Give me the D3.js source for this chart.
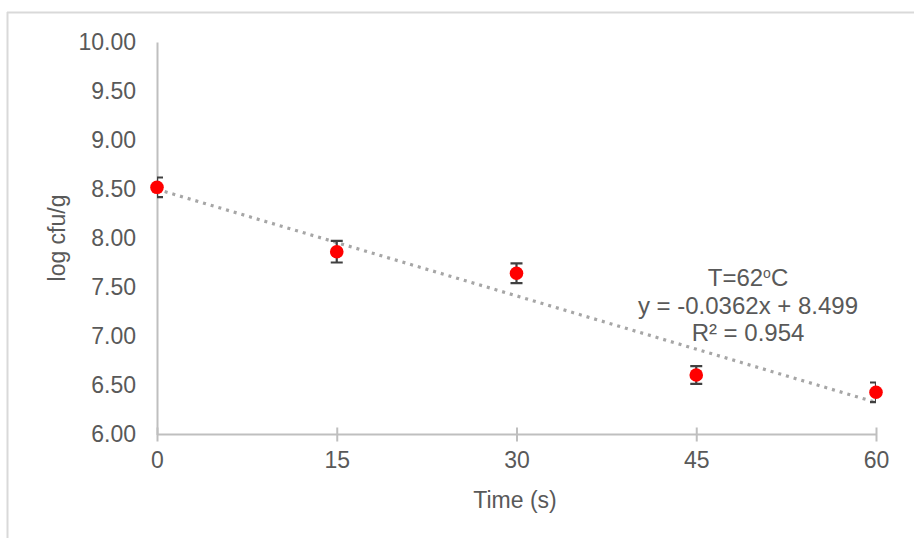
<!DOCTYPE html>
<html>
<head>
<meta charset="utf-8">
<script src="https://cdn.jsdelivr.net/npm/d3@7"></script>
<style>
  html, body { margin: 0; padding: 0; background: #fff; }
  svg { display: block; }
  text { font-family: "Liberation Sans", Arial, sans-serif; fill: #595959; }
</style>
</head>
<body>
<svg id="chart" width="914" height="538"></svg>
<script>
const times = [0, 15, 30, 45, 60];
const logCfu = [8.519, 7.863, 7.643, 6.606, 6.430];
const errors = [0.10, 0.11, 0.10, 0.09, 0.10];
const xTicks = [0, 15, 30, 45, 60];
const yTicks = [6.0, 6.5, 7.0, 7.5, 8.0, 8.5, 9.0, 9.5, 10.0];
const trendSlope = -0.0362;
const trendIntercept = 8.499;
const annotation = ["T=62", "y = -0.0362x + 8.499", "R² = 0.954"];

const svg = d3.select("#chart");
const W = 914, H = 538;
const plot = { left: 157, right: 876, top: 42, bottom: 434.5 };

const x = d3.scaleLinear().domain([0, 60]).range([plot.left, plot.right]);
const y = d3.scaleLinear().domain([6, 10]).range([plot.bottom, plot.top]);

// outer frame (top and left edges visible)
svg.append("line").attr("x1", 7).attr("x2", W).attr("y1", 12.5).attr("y2", 12.5)
  .attr("stroke", "#d9d9d9").attr("stroke-width", 2);
svg.append("line").attr("x1", 7.5).attr("x2", 7.5).attr("y1", 12).attr("y2", H)
  .attr("stroke", "#d9d9d9").attr("stroke-width", 2);

svg.append("clipPath").attr("id", "plotClip").append("rect")
  .attr("x", plot.left).attr("y", plot.top - 20)
  .attr("width", plot.right - plot.left).attr("height", plot.bottom - plot.top + 20);

// Y axis
const yAxis = d3.axisLeft(y).tickValues(yTicks).tickSize(0).tickPadding(21)
  .tickFormat(d3.format(".2f"));
const gy = svg.append("g").attr("transform", `translate(${plot.left},0)`).call(yAxis);
gy.select(".domain").attr("stroke", "#bfbfbf").attr("stroke-width", 2);
gy.selectAll("text").attr("font-size", 23).attr("fill", "#595959")
  .style("font-family", "'Liberation Sans', Arial, sans-serif");

// X axis
const xAxis = d3.axisBottom(x).tickValues(xTicks).tickSize(7).tickPadding(10)
  .tickFormat(d3.format("d"));
const gx = svg.append("g").attr("transform", `translate(0,${plot.bottom})`).call(xAxis);
gx.select(".domain").attr("stroke", "#bfbfbf").attr("stroke-width", 2)
  .attr("d", `M${plot.left},0H${plot.right}`);
gx.selectAll(".tick line").attr("stroke", "#bfbfbf").attr("stroke-width", 2)
  .attr("y1", -7).attr("y2", 7);
gx.selectAll("text").attr("font-size", 23).attr("fill", "#595959")
  .style("font-family", "'Liberation Sans', Arial, sans-serif");

// axis titles
svg.append("text").attr("transform", `translate(65,238) rotate(-90)`)
  .attr("text-anchor", "middle").attr("font-size", 23).text("log cfu/g");
svg.append("text").attr("x", 515).attr("y", 508)
  .attr("text-anchor", "middle").attr("font-size", 23).text("Time (s)");

// trendline
const tx = d3.extent(times);
svg.append("line")
  .attr("x1", x(tx[0])).attr("y1", y(trendIntercept + trendSlope * tx[0]))
  .attr("x2", x(tx[1])).attr("y2", y(trendIntercept + trendSlope * tx[1]))
  .attr("stroke", "#a6a6a6").attr("stroke-width", 3.2)
  .attr("stroke-dasharray", "3 5");

// error bars
const data = times.map((t, i) => ({ t, v: logCfu[i], e: errors[i] }));
const eb = svg.append("g").attr("clip-path", "url(#plotClip)")
  .attr("stroke", "#404040").attr("stroke-width", 2.2);
eb.selectAll(".ebar").data(data).join("g").each(function (d) {
  const g = d3.select(this);
  g.append("line").attr("x1", x(d.t)).attr("x2", x(d.t))
    .attr("y1", y(d.v + d.e)).attr("y2", y(d.v - d.e));
  g.append("line").attr("x1", x(d.t) - 6).attr("x2", x(d.t) + 6)
    .attr("y1", y(d.v + d.e)).attr("y2", y(d.v + d.e));
  g.append("line").attr("x1", x(d.t) - 6).attr("x2", x(d.t) + 6)
    .attr("y1", y(d.v - d.e)).attr("y2", y(d.v - d.e));
});

// points
svg.selectAll(".pt").data(data).join("circle")
  .attr("cx", d => x(d.t)).attr("cy", d => y(d.v)).attr("r", 6.8)
  .attr("fill", "#ff0000");

// annotation
const annFont = 24;
const ann = svg.append("text").attr("x", 748).attr("y", 286)
  .attr("text-anchor", "middle").attr("font-size", annFont);
ann.append("tspan").text(annotation[0]);
ann.append("tspan").attr("font-size", 14).attr("dy", -8).text("o");
ann.append("tspan").attr("dy", 8).text("C");
svg.append("text").attr("x", 748).attr("y", 313.5)
  .attr("text-anchor", "middle").attr("font-size", annFont).text(annotation[1]);
svg.append("text").attr("x", 748).attr("y", 341)
  .attr("text-anchor", "middle").attr("font-size", annFont).text(annotation[2]);
</script>
</body>
</html>
